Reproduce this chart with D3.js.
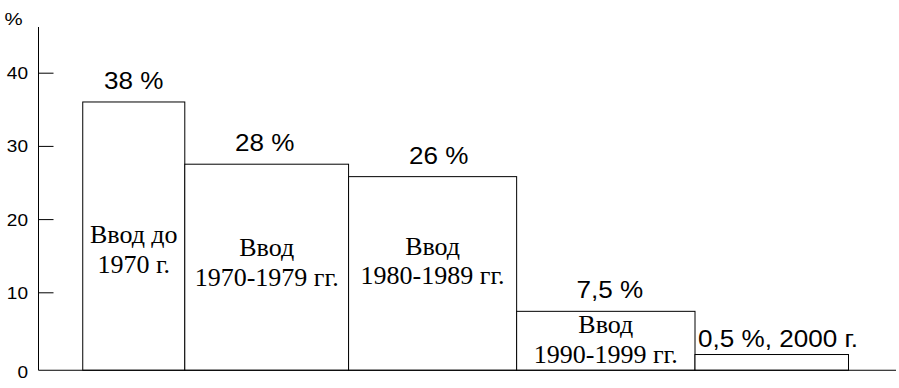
<!DOCTYPE html>
<html>
<head>
<meta charset="utf-8">
<script src="https://cdn.jsdelivr.net/npm/d3@7"></script>
<style>
  body { margin: 0; background: #fff; }
  svg { display: block; }
  .tick text, .pct { font-family: "Liberation Sans", Arial, sans-serif; font-size: 17px; fill: #000; }
  .val { font-family: "Liberation Sans", Arial, sans-serif; font-size: 23.3px; fill: #000; }
  .cap { font-family: "Liberation Serif", "Times New Roman", serif; font-size: 26px; fill: #000; }
</style>
</head>
<body>
<div id="chart"></div>
<script>
// Data
var valueLabels = ["38 %", "28 %", "26 %", "7,5 %", "0,5 %, 2000 г."];
var barHeights = [36, 27.5, 25.8, 7.4, 1.5];          // heights as drawn, in % units
var barWidths = [11.9, 19.1, 19.6, 20.8, 17.9];       // relative widths of the periods
var captions = [
  ["Ввод до", "1970 г."],
  ["Ввод", "1970-1979 гг."],
  ["Ввод", "1980-1989 гг."],
  ["Ввод", "1990-1999 гг."],
  []
];
var yTicks = [0, 10, 20, 30, 40];

var svgWidth = 899;
var svgHeight = 388;
var stretch = 1.12;   // sans text in the picture is a bit wider than the font

var svg = d3.select("#chart")
  .append("svg")
  .attr("width", svgWidth)
  .attr("height", svgHeight);

var axisX = 38.5;
var leftGap = 5.16;   // empty space before first bar, same units as widths

var y = d3.scaleLinear()
  .domain([0, 40])
  .range([365.5, 72.7]);

var x = d3.scaleLinear()
  .domain([0, 100])
  .range([axisX, 896]);

var baseY = y(-0.65);

// bar edges from widths
var edges = [leftGap];
barWidths.forEach(function(w, i) { edges.push(edges[i] + w); });

var bars = barHeights.map(function(h, i) {
  return { h: h, x0: edges[i], x1: edges[i + 1], label: valueLabels[i], cap: captions[i] };
});

// y axis (ticks pointing inward)
var leftAxis = d3.axisRight(y)
  .tickValues(yTicks)
  .tickSize(15)
  .tickFormat(d3.format("d"));

var axisG = svg.append("g")
  .attr("transform", `translate(${axisX}, 0)`)
  .call(leftAxis);

axisG.select(".domain").remove();
axisG.selectAll(".tick line").attr("stroke", "#000").attr("stroke-width", 1);
axisG.selectAll(".tick text")
  .attr("x", -10.5 / stretch)
  .attr("text-anchor", "end")
  .attr("dy", "0.35em")
  .attr("transform", `scale(${stretch},1)`);
axisG.selectAll(".tick").filter(function(d) { return d === 0; })
  .select("text").attr("transform", `translate(0,6) scale(${stretch},1)`);
axisG.selectAll(".tick").filter(function(d) { return d === 0; })
  .select("line").remove();

// axis lines
svg.append("line")
  .attr("x1", axisX).attr("x2", axisX)
  .attr("y1", 27).attr("y2", baseY)
  .attr("stroke", "#000");

svg.append("text")
  .attr("class", "pct")
  .attr("transform", `translate(4.5,24.5) scale(1.2,1)`)
  .text("%");

// bars
svg.selectAll("rect.bar")
  .data(bars)
  .enter()
  .append("rect")
  .attr("class", "bar")
  .attr("x", d => x(d.x0))
  .attr("y", d => y(d.h))
  .attr("width", d => x(d.x1) - x(d.x0))
  .attr("height", d => baseY - y(d.h))
  .attr("fill", "#fff")
  .attr("stroke", "#000")
  .attr("stroke-width", 1);

svg.append("line")
  .attr("x1", axisX).attr("x2", 896)
  .attr("y1", baseY).attr("y2", baseY)
  .attr("stroke", "#000");

// value labels above bars (small nudges as in the original)
var labelNudge = [0, -2, 6, 4, 0];
svg.selectAll("text.val")
  .data(bars)
  .enter()
  .append("text")
  .attr("class", "val")
  .attr("transform", function(d, i) {
    var tx = i === 4 ? x(d.x0) + 3 : (x(d.x0) + x(d.x1)) / 2 + labelNudge[i];
    var ty = y(d.h) - (i === 4 ? 7.5 : 13);
    return `translate(${tx},${ty}) scale(${stretch},1)`;
  })
  .attr("text-anchor", (d, i) => i === 4 ? "start" : "middle")
  .text(d => d.label);

// captions inside bars
var capLevel = [16.7, 14.9, 15.1, 4.4];
bars.forEach(function(d, i) {
  d.cap.forEach(function(line, j) {
    svg.append("text")
      .attr("class", "cap")
      .attr("x", (x(d.x0) + x(d.x1)) / 2)
      .attr("y", y(capLevel[i]) + j * 29.5)
      .attr("text-anchor", "middle")
      .text(line);
  });
});
</script>
</body>
</html>
